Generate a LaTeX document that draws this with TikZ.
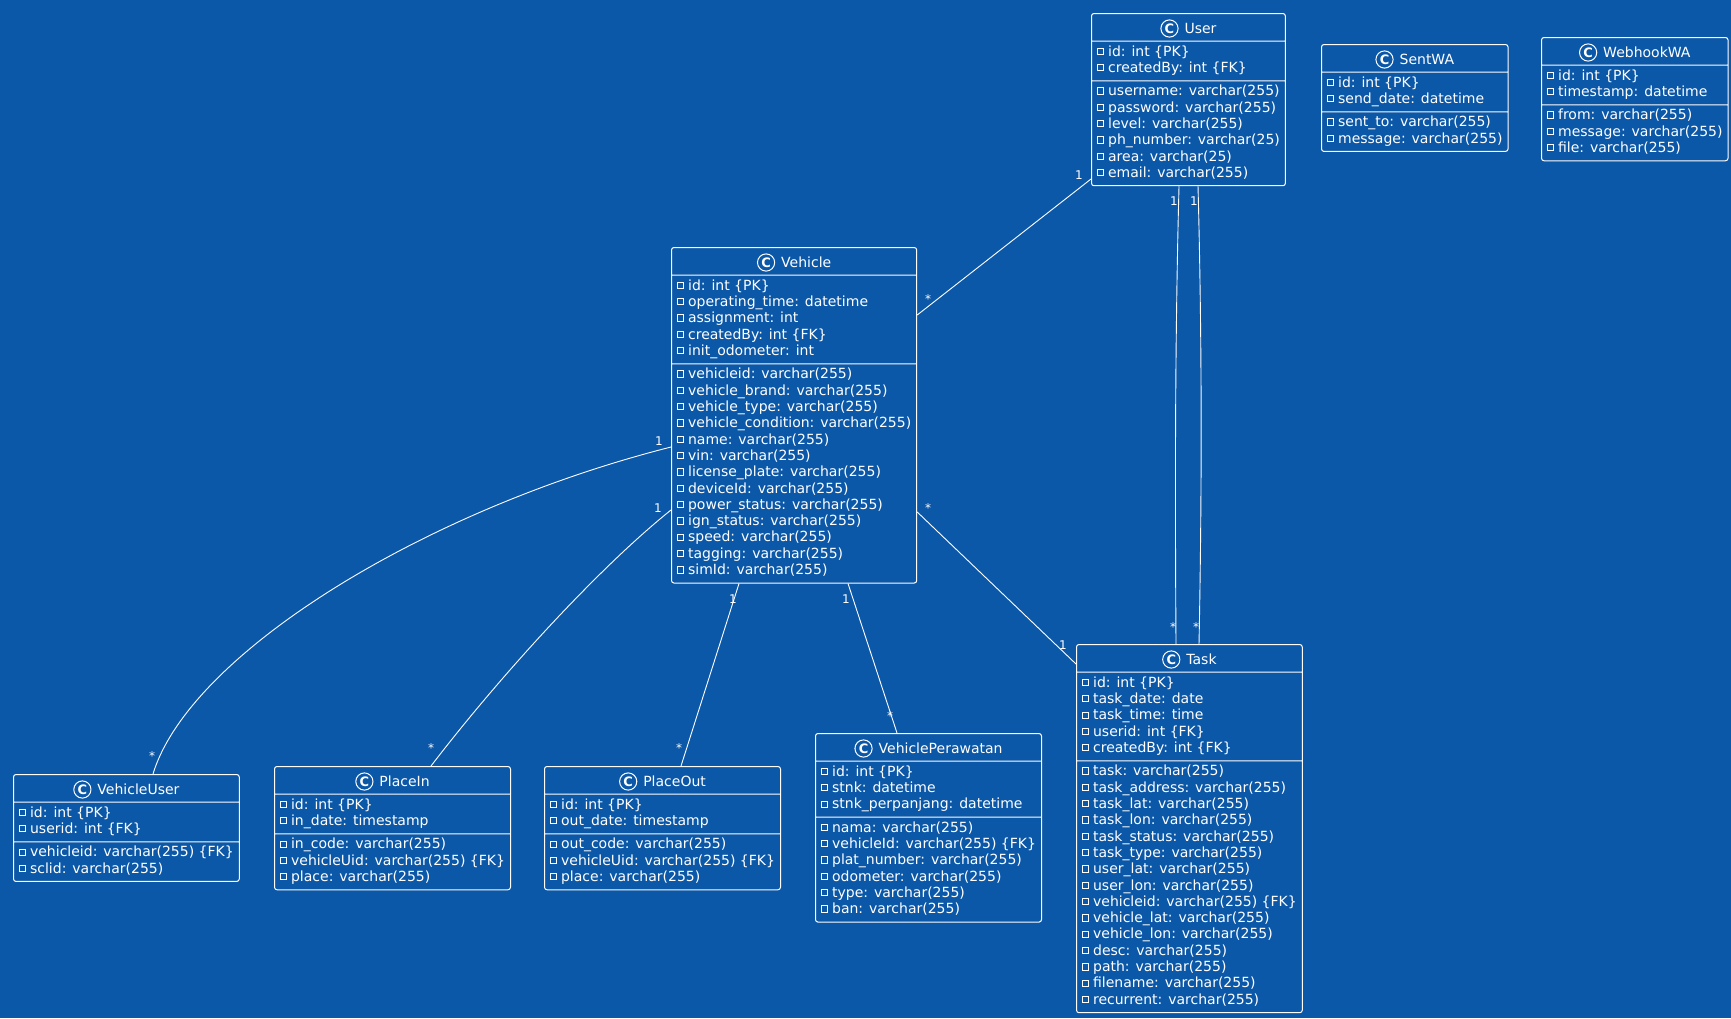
\documentclass[tikz,border=0pt]{standalone}
\usepackage{fontspec}
\setmainfont{DejaVu Sans}
\usetikzlibrary{shapes.multipart}

\definecolor{bpblue}{RGB}{12,88,168}

% class icon and field marker
\newcommand{\clsicon}{\tikz[baseline={(0pt,-4.5pt)}]{\draw[white, line width=1pt] (0pt,0pt) circle[radius=8.6pt];
  \node[rectangle, draw=none, fill=none, anchor=center, inner sep=0pt, text=white, font=\fontsize{13}{13}\selectfont\bfseries] at (0pt,0pt) {C};}}
\newcommand{\fld}{\strut\tikz[baseline=0pt]\draw[white, line width=0.8pt, sharp corners] (0pt,1.5pt) rectangle (6.3pt,7.8pt);\hspace{4pt}}
\newcommand{\ttl}{\rule[-4.5pt]{0pt}{20.5pt}}

\begin{document}
\begin{tikzpicture}[
  x=1pt, y=-1pt,
  cls/.style={rectangle split, rectangle split parts=3, rectangle split part align={center,left,left},
    draw=white, line width=1pt, rounded corners=2.5pt, fill=bpblue, text=white, align=left,
    inner xsep=5.5pt, inner ysep=3pt, anchor=north west, font=\fontsize{14}{16.33}\selectfont\color{white}},
  link/.style={draw=white, line width=0.9pt},
  mult/.style={text=white, inner sep=0pt, font=\fontsize{12}{12}\selectfont}
]
\useasboundingbox (0,0) rectangle (1731,1018);
\fill[bpblue] (0,0) rectangle (1731,1018);

\node[cls] (user) at (1091,13) {\clsicon\hspace{6pt}User\ttl
  \nodepart{two}\fld id: int \{PK\}\\ \fld createdBy: int \{FK\}
  \nodepart{three}\fld username: varchar(255)\\ \fld password: varchar(255)\\ \fld level: varchar(255)\\
  \fld ph\_number: varchar(25)\\ \fld area: varchar(25)\\ \fld email: varchar(255)};
\node[cls] (sentwa) at (1321,44) {\clsicon\hspace{6pt}SentWA\ttl
  \nodepart{two}\fld id: int \{PK\}\\ \fld send\_date: datetime
  \nodepart{three}\fld sent\_to: varchar(255)\\ \fld message: varchar(255)};
\node[cls] (webhook) at (1541,37) {\clsicon\hspace{6pt}WebhookWA\ttl
  \nodepart{two}\fld id: int \{PK\}\\ \fld timestamp: datetime
  \nodepart{three}\fld from: varchar(255)\\ \fld message: varchar(255)\\ \fld file: varchar(255)};
\node[cls] (vehicle) at (671,247) {\clsicon\hspace{6pt}Vehicle\ttl
  \nodepart{two}\fld id: int \{PK\}\\ \fld operating\_time: datetime\\ \fld assignment: int\\
  \fld createdBy: int \{FK\}\\ \fld init\_odometer: int
  \nodepart{three}\fld vehicleid: varchar(255)\\ \fld vehicle\_brand: varchar(255)\\ \fld vehicle\_type: varchar(255)\\
  \fld vehicle\_condition: varchar(255)\\ \fld name: varchar(255)\\ \fld vin: varchar(255)\\
  \fld license\_plate: varchar(255)\\ \fld deviceId: varchar(255)\\ \fld power\_status: varchar(255)\\
  \fld ign\_status: varchar(255)\\ \fld speed: varchar(255)\\ \fld tagging: varchar(255)\\ \fld simId: varchar(255)};
\node[cls] (task) at (1076,644) {\clsicon\hspace{6pt}Task\ttl
  \nodepart{two}\fld id: int \{PK\}\\ \fld task\_date: date\\ \fld task\_time: time\\
  \fld userid: int \{FK\}\\ \fld createdBy: int \{FK\}
  \nodepart{three}\fld task: varchar(255)\\ \fld task\_address: varchar(255)\\ \fld task\_lat: varchar(255)\\
  \fld task\_lon: varchar(255)\\ \fld task\_status: varchar(255)\\ \fld task\_type: varchar(255)\\
  \fld user\_lat: varchar(255)\\ \fld user\_lon: varchar(255)\\ \fld vehicleid: varchar(255) \{FK\}\\
  \fld vehicle\_lat: varchar(255)\\ \fld vehicle\_lon: varchar(255)\\ \fld desc: varchar(255)\\
  \fld path: varchar(255)\\ \fld filename: varchar(255)\\ \fld recurrent: varchar(255)};
\node[cls] (vuser) at (13,774) {\clsicon\hspace{6pt}VehicleUser\ttl
  \nodepart{two}\fld id: int \{PK\}\\ \fld userid: int \{FK\}
  \nodepart{three}\fld vehicleid: varchar(255) \{FK\}\\ \fld sclid: varchar(255)};
\node[cls] (placein) at (274,766) {\clsicon\hspace{6pt}PlaceIn\ttl
  \nodepart{two}\fld id: int \{PK\}\\ \fld in\_date: timestamp
  \nodepart{three}\fld in\_code: varchar(255)\\ \fld vehicleUid: varchar(255) \{FK\}\\ \fld place: varchar(255)};
\node[cls] (placeout) at (544,766) {\clsicon\hspace{6pt}PlaceOut\ttl
  \nodepart{two}\fld id: int \{PK\}\\ \fld out\_date: timestamp
  \nodepart{three}\fld out\_code: varchar(255)\\ \fld vehicleUid: varchar(255) \{FK\}\\ \fld place: varchar(255)};
\node[cls] (rawat) at (815,733) {\clsicon\hspace{6pt}VehiclePerawatan\ttl
  \nodepart{two}\fld id: int \{PK\}\\ \fld stnk: datetime\\ \fld stnk\_perpanjang: datetime
  \nodepart{three}\fld nama: varchar(255)\\ \fld vehicleId: varchar(255) \{FK\}\\ \fld plat\_number: varchar(255)\\
  \fld odometer: varchar(255)\\ \fld type: varchar(255)\\ \fld ban: varchar(255)};

% relations
\draw[link] ([yshift=-166pt]user.north west) -- ([yshift=-68pt]vehicle.north east)
  node[mult, at start, xshift=-12pt, yshift=4pt] (m1a) {1} node[mult, at end, xshift=11pt, yshift=16pt] (m1b) {*};
\draw[link] ([xshift=88pt]user.south west) .. controls (1175,340) and (1175,490) .. ([xshift=100pt]task.north west)
  node[mult, at start, xshift=-5pt, yshift=-15pt] (m2a) {1} node[mult, at end, xshift=-3pt, yshift=17pt] (m2b) {*};
\draw[link] ([xshift=107pt]user.south west) .. controls (1202,340) and (1202,490) .. ([xshift=123pt]task.north west)
  node[mult, at start, xshift=-4pt, yshift=-15pt] (m3a) {1} node[mult, at end, xshift=-3pt, yshift=17pt] (m3b) {*};
\draw[link] ([yshift=-265pt]vehicle.north east) -- ([yshift=-20pt]task.north west)
  node[mult, at start, xshift=11pt, yshift=4pt] (m4a) {*} node[mult, at end, xshift=-13pt, yshift=19pt] (m4b) {1};
\draw[link] ([yshift=-200pt]vehicle.north west) .. controls (422,510) and (189,655) .. ([xshift=140pt]vuser.north west)
  node[mult, at start, xshift=-12pt, yshift=6pt] (m5a) {1} node[mult, at end, xshift=-1pt, yshift=18pt] (m5b) {*};
\draw[link] ([yshift=-263pt]vehicle.north west) .. controls (602,565) and (503,672) .. ([xshift=157pt]placein.north west)
  node[mult, at start, xshift=-13pt, yshift=2pt] (m6a) {1} node[mult, at end, xshift=0pt, yshift=18pt] (m6b) {*};
\draw[link] ([xshift=68pt]vehicle.south west) -- ([xshift=137pt]placeout.north west)
  node[mult, at start, xshift=-6pt, yshift=-16pt] (m7a) {1} node[mult, at end, xshift=-2pt, yshift=18pt] (m7b) {*};
\draw[link] ([xshift=177pt]vehicle.south west) -- ([xshift=82pt]rawat.north west)
  node[mult, at start, xshift=-2pt, yshift=-16pt] (m8a) {1} node[mult, at end, xshift=-7pt, yshift=17pt] (m8b) {*};
\end{tikzpicture}
\end{document}
